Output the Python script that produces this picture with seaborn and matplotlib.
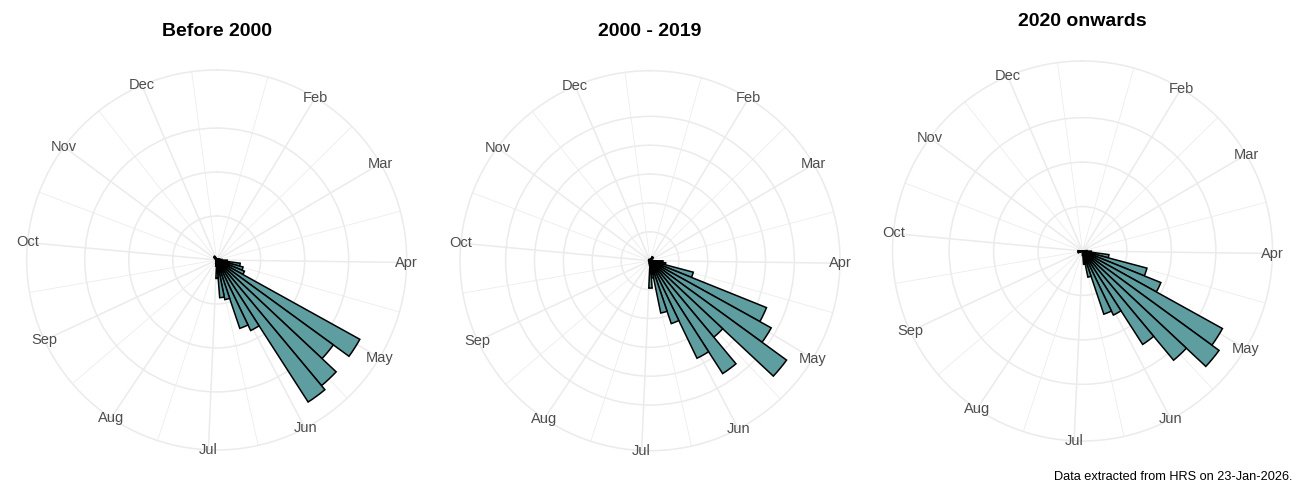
import numpy as np
import pandas as pd
import seaborn as sns
import matplotlib.pyplot as plt

# weekly bins, start day-of-year of each bin
week_start = list(range(0, 357, 7))

# counts per week
before_2000 = [0, 0, 0, 1, 0, 1, 1, 2, 2, 2, 3, 4, 6, 12, 27, 31, 34, 186, 164, 186,
               192, 89, 82, 46, 43, 21, 7, 4, 2, 2, 1, 1, 1, 0, 1, 0, 0, 0, 0, 0,
               1, 0, 0, 2, 4, 4, 5, 4, 2, 1, 0]
y2000_2019 = [0, 0, 0, 1, 3, 3, 3, 1, 1, 1, 1, 1, 2, 9, 11, 31, 87, 96, 117, 69,
              93, 75, 46, 37, 12, 19, 3, 2, 1, 1, 1, 0, 0, 0, 0, 0, 1, 0, 0, 0,
              0, 0, 0, 1, 1, 1, 1, 0, 0, 0, 0]
from_2020 = [0, 0, 0, 0, 0, 0, 0, 0, 0, 0, 0, 0, 1, 2, 6, 15, 19, 36, 38, 32,
             25, 16, 15, 6, 3, 1, 0, 0, 0, 0, 0, 0, 0, 0, 0, 1, 1, 1, 1, 0,
             0, 0, 0, 0, 0, 0, 0, 0, 0, 0, 0]

periods = ['Before 2000', '2000 - 2019', '2020 onwards']
series = [before_2000, y2000_2019, from_2020]
r_breaks = [50, 20, 10]

month_day = [1, 32, 60, 91, 121, 152, 182, 213, 244, 274, 305, 335]
month_lab = ['Jan', 'Feb', 'Mar', 'Apr', 'May', 'Jun',
             'Jul', 'Aug', 'Sep', 'Oct', 'Nov', 'Dec']

DAY_LIM = (1, 358)


def day_to_theta(d):
    d = np.asarray(d, dtype=float)
    return (d - DAY_LIM[0]) / (DAY_LIM[1] - DAY_LIM[0]) * 2 * np.pi


sns.set_theme(style='white')
plt.rcParams['font.family'] = ['Liberation Sans', 'DejaVu Sans']

GRID = '#EBEBEB'
W, H = 1300, 500
R = 190  # outer circle, px
centers = [(216.7, 260.0), (650.0, 260.7), (1082.5, 251.0)]

edges = week_start + [week_start[-1] + 7]
mids = [s + 3.5 for s in week_start]

# major breaks = month starts inside the limits, minor = midpoints
major = [d for d in month_day if d > DAY_LIM[0]]
major_lab = [l for d, l in zip(month_day, month_lab) if d > DAY_LIM[0]]
md = np.array(month_day + [366])
minor = (md[:-1] + md[1:]) / 2

fig = plt.figure(figsize=(W / 100, H / 100), dpi=100)

for (cx, cy), title, counts, brk in zip(centers, periods, series, r_breaks):
    ax = fig.add_axes([(cx - R) / W, (H - cy - R) / H, 2 * R / W, 2 * R / H],
                      projection='polar')
    ax.set_theta_zero_location('N')
    ax.set_theta_direction(-1)
    ax.set_axisbelow(True)

    df = pd.DataFrame({'theta': day_to_theta(mids), 'count': counts})
    sns.histplot(data=df, x='theta', weights='count',
                 bins=day_to_theta(edges).tolist(),
                 ax=ax, color='#5F9EA0', edgecolor='black', linewidth=1.1,
                 alpha=1)

    top = max(counts)
    rmax = top * 0.45 / 0.4
    ax.set_thetalim(0, 2 * np.pi)
    ax.set_ylim(0, rmax)

    ax.set_xticks(day_to_theta(major))
    ax.set_xticks(day_to_theta(minor), minor=True)
    ax.set_xticklabels([])
    ax.set_yticks(np.arange(brk, top + 1e-9, brk))
    ax.set_yticklabels([])
    ax.tick_params(which='both', length=0)
    ax.xaxis.grid(True, which='major', color=GRID, lw=1.1)
    ax.xaxis.grid(True, which='minor', color=GRID, lw=0.55)
    ax.yaxis.grid(True, which='major', color=GRID, lw=1.1)
    ax.spines['polar'].set_color(GRID)
    ax.spines['polar'].set_linewidth(1.1)
    ax.set_xlabel('')
    ax.set_ylabel('')

    for d, lab in zip(major, major_lab):
        ax.text(day_to_theta(d), rmax, lab, ha='center', va='center',
                fontsize=10.5, color='#4D4D4D', clip_on=False, zorder=5)

    ax.text(0.5, 1 + 39 / (2 * R), title, transform=ax.transAxes,
            ha='center', va='center', fontsize=14, fontweight='bold',
            color='black')

fig.text(1293 / W, 1 - 477 / H, 'Data extracted from HRS on 23-Jan-2026.',
         ha='right', va='center', fontsize=9.2, color='black')

plt.savefig('out.png', dpi=100)
